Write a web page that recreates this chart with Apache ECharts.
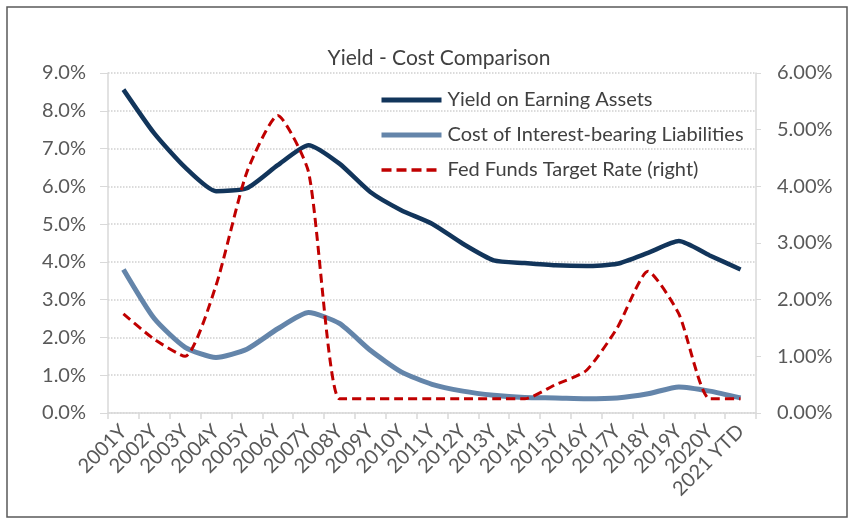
<!DOCTYPE html>
<html>
  <head>
    <meta charset='UTF-8'>
    <title>Yield - Cost Comparison</title>
    <script src="https://cdn.jsdelivr.net/npm/echarts@6/dist/echarts.min.js"></script>
    <style>
      html, body { margin: 0; padding: 0; background: #fff; }
    </style>
  </head>
  <body>
    <div id="myChart" style="width: 851px;height:521px;"></div>
    <script type="text/javascript">
      // years along the bottom
      var years = ['2001Y','2002Y','2003Y','2004Y','2005Y','2006Y','2007Y','2008Y','2009Y','2010Y',
                   '2011Y','2012Y','2013Y','2014Y','2015Y','2016Y','2017Y','2018Y','2019Y','2020Y','2021 YTD'];
      // left axis series (%)
      var yieldAssets = [8.56, 7.40, 6.50, 5.87, 5.95, 6.56, 7.09, 6.60, 5.85, 5.37,
                         5.01, 4.48, 4.04, 3.97, 3.91, 3.89, 3.95, 4.24, 4.55, 4.17, 3.80];
      var costLiab = [3.80, 2.50, 1.74, 1.47, 1.69, 2.23, 2.66, 2.37, 1.66, 1.09,
                      0.76, 0.58, 0.47, 0.41, 0.40, 0.38, 0.40, 0.51, 0.69, 0.58, 0.40];
      // right axis series (%)
      var fedRate = [1.75, 1.30, 1.00, 2.25, 4.25, 5.25, 4.25, 0.25, 0.25, 0.25,
                     0.25, 0.25, 0.25, 0.25, 0.50, 0.75, 1.50, 2.50, 1.75, 0.25, 0.25];
      var seriesNames = ['Yield on Earning Assets', 'Cost of Interest-bearing Liabilities', 'Fed Funds Target Rate (right)'];

      var font = 'Lato, "Open Sans", sans-serif';
      var grey = '#595959';
      var axisGrey = '#d9d9d9';
      var navy = '#12355b', steel = '#6485aa', red = '#c00000';

      var myChart = echarts.init(document.getElementById('myChart'));
      var option = {
        backgroundColor: '#fff',
        animation: false,
        textStyle: { fontFamily: font },
        title: {
          text: 'Yield - Cost Comparison',
          left: 434,
          top: 43,
          textAlign: 'center',
          textStyle: { fontSize: 21, fontWeight: 'normal', color: '#404040', fontFamily: font }
        },
        legend: {
          orient: 'vertical',
          left: 379,
          top: 90,
          padding: 0,
          itemWidth: 60,
          itemHeight: 14,
          itemGap: 15,
          itemStyle: { opacity: 0 },
          textStyle: { fontSize: 20, color: '#404040', fontFamily: font, padding: [0, 0, 0, 1] },
          data: [
            { name: seriesNames[0], lineStyle: { width: 5, color: navy } },
            { name: seriesNames[1], lineStyle: { width: 5, color: steel } },
            { name: seriesNames[2], lineStyle: { width: 3.5, color: red, type: [10, 5] } }
          ]
        },
        grid: { left: 108, right: 95, top: 73, bottom: 108, containLabel: false },
        graphic: [{
          type: 'rect',
          shape: { x: 7, y: 7, width: 840, height: 510 },
          style: { fill: 'none', stroke: '#5a5a5a', lineWidth: 1.5 },
          silent: true
        }],
        xAxis: {
          type: 'category',
          data: years,
          boundaryGap: true,
          axisLine: { lineStyle: { color: axisGrey, width: 1.5 } },
          axisTick: { show: true, length: 6, lineStyle: { color: axisGrey, width: 1.5 } },
          axisLabel: { interval: 0, rotate: 45, margin: 15, fontSize: 20, color: grey, fontFamily: font }
        },
        yAxis: [{
          type: 'value',
          min: 0, max: 9, interval: 1,
          axisLine: { show: true, lineStyle: { color: axisGrey, width: 1.5 } },
          axisTick: { show: true, length: 8, lineStyle: { color: axisGrey } },
          splitLine: { lineStyle: { color: '#cfcfcf', type: 'dotted', width: 1.5 } },
          axisLabel: {
            margin: 22, fontSize: 20, color: grey, fontFamily: font,
            formatter: function (v) { return v.toFixed(1) + '%'; }
          }
        }, {
          type: 'value',
          min: 0, max: 6, interval: 1,
          position: 'right',
          axisLine: { show: true, lineStyle: { color: axisGrey, width: 1.5 } },
          axisTick: { show: true, length: 5, lineStyle: { color: axisGrey } },
          splitLine: { show: false },
          axisLabel: {
            margin: 21, fontSize: 20, color: grey, fontFamily: font,
            formatter: function (v) { return v.toFixed(2) + '%'; }
          }
        }],
        series: [{
          name: seriesNames[0],
          type: 'line',
          yAxisIndex: 0,
          data: yieldAssets,
          symbol: 'none',
          smooth: 0.2,
          color: navy,
          lineStyle: { color: navy, width: 4.5 }
        }, {
          name: seriesNames[1],
          type: 'line',
          yAxisIndex: 0,
          data: costLiab,
          symbol: 'none',
          smooth: 0.2,
          color: steel,
          lineStyle: { color: steel, width: 5 }
        }, {
          name: seriesNames[2],
          type: 'line',
          yAxisIndex: 1,
          data: fedRate,
          symbol: 'none',
          smooth: 0.2,
          color: red,
          lineStyle: { color: red, width: 3, type: [9, 5] }
        }]
      };
      myChart.setOption(option);
    </script>
  </body>
</html>
